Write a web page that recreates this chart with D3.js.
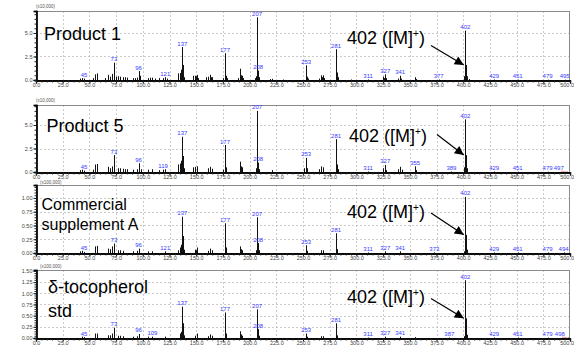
<!DOCTYPE html>
<html><head><meta charset="utf-8">
<script src="https://cdn.jsdelivr.net/npm/d3@7"></script>
<style>body{margin:0;background:#fff;} svg{display:block;font-family:"Liberation Sans",Arial,sans-serif;}</style>
</head><body><svg id="c" width="574" height="349"></svg>
<script>
// ---------- DATA ----------
const xTicks = [0,25,50,75,100,125,150,175,200,225,250,275,300,325,350,375,400,425,450,475,500];
const titles = [["Product 1"],["Product 5"],["Commercial","supplement A"],["\u03b4-tocopherol","std"]];
const multipliers = ["(x10,000)","(x10,000)","(x100,000)","(x100,000)"];
const annotationText = "402 ([M]";
const yTicksA = [0,2.5,5.0];
const yTicksB = [0,0.25,0.5,0.75,1.0];
const yTicksC = [0,0.25,0.5,0.75,1.0,1.25,1.5];

// Product 1 (x10,000)
const mzP1 =  [41,43,45,53,55,57,65,67,69,71,73,75,77,79,81,83,85,91,93,95,96,97,105,107,109,111,115,119,121,123,133,135,136,137,138,139,147,149,150,151,152,159,161,163,164,165,175,177,178,179,189,191,192,193,194,205,206,207,208,209,219,221,231,253,254,255,265,267,268,269,270,281,282,283,295,311,325,326,327,328,339,341,342,355,356,377,401,402,403,404,405,429,451,479,495];
const intP1 = [0.15,0.2,0.15,0.2,0.6,0.7,0.2,0.55,0.35,0.65,1.84,0.35,0.4,0.35,0.3,0.3,0.25,0.2,0.2,0.25,0.95,0.45,0.2,0.25,0.25,0.15,0.2,0.2,0.3,0.15,0.7,0.75,1.1,3.5,1.6,0.3,0.45,0.45,0.4,0.55,0.2,0.3,0.35,0.55,0.3,0.3,0.2,2.85,0.45,0.2,0.2,1.2,0.5,0.45,0.2,0.2,0.4,6.67,1.0,0.3,0.1,0.12,0.05,1.56,0.35,0.15,0.15,0.5,0.3,0.5,0.2,3.27,0.8,0.3,0.05,0.05,0.35,0.2,0.6,0.2,0.15,0.45,0.15,0.3,0.1,0.05,0.4,5.25,1.6,0.4,0.1,0.05,0.03,0.03,0.03];
const labP1 = [45,73,96,121,137,177,207,208,253,281,311,327,341,377,402,429,451,479,495];

// Product 5 (x10,000)
const mzP2 =  [41,43,45,53,55,57,67,69,71,73,77,79,81,83,85,91,95,96,98,105,109,115,119,121,133,135,136,137,138,139,147,149,151,161,163,165,175,177,178,191,192,193,206,207,208,209,221,251,253,254,265,267,269,281,282,283,311,325,327,328,339,341,343,355,356,389,401,402,403,404,429,451,479,497];
const intP2 = [0.2,0.25,0.15,0.25,0.8,0.85,0.55,0.4,0.6,1.8,0.4,0.4,0.35,0.3,0.3,0.25,0.3,0.93,0.3,0.25,0.3,0.2,0.25,0.3,0.8,0.9,1.2,3.75,1.7,0.4,0.5,0.55,0.6,0.4,0.55,0.35,0.25,2.87,0.5,1.1,0.6,0.5,0.4,6.5,1.0,0.3,0.2,0.4,1.5,0.4,0.3,0.6,0.5,3.5,0.8,0.3,0.05,0.4,0.75,0.2,0.3,0.55,0.25,0.6,0.2,0.05,0.5,5.6,1.8,0.4,0.05,0.03,0.03,0.03];
const labP2 = [45,73,96,119,137,177,207,208,253,281,311,327,355,389,402,429,451,479,497];

// Commercial supplement A (x100,000)
const mzP3 =  [41,43,45,55,57,67,69,71,73,77,79,81,91,95,96,105,109,121,133,135,136,137,138,139,149,150,151,161,163,165,177,178,191,192,193,206,207,208,209,253,254,267,269,281,282,311,327,341,373,401,402,403,404,429,451,479,494];
const intP3 = [0.03,0.04,0.02,0.12,0.13,0.08,0.07,0.12,0.17,0.05,0.05,0.04,0.03,0.04,0.08,0.03,0.03,0.03,0.05,0.1,0.15,0.66,0.31,0.06,0.06,0.05,0.1,0.04,0.08,0.05,0.54,0.1,0.12,0.07,0.05,0.05,0.65,0.18,0.05,0.14,0.04,0.05,0.05,0.36,0.07,0.01,0.03,0.03,0.01,0.03,1.02,0.33,0.06,0.01,0.01,0.01,0.01];
const labP3 = [45,73,96,121,137,177,207,208,253,281,311,327,341,373,402,429,451,479,494];

// delta-tocopherol std (x100,000)
const mzP4 =  [43,45,55,57,67,69,71,73,77,79,81,91,95,96,105,109,121,135,136,137,138,139,149,151,161,163,165,177,178,191,192,193,207,208,209,253,254,267,269,281,282,311,327,341,355,387,401,402,403,404,429,451,479,498];
const intP4 = [0.03,0.02,0.1,0.1,0.06,0.06,0.1,0.23,0.05,0.05,0.04,0.03,0.04,0.09,0.03,0.03,0.03,0.1,0.14,0.70,0.33,0.06,0.05,0.1,0.04,0.08,0.05,0.57,0.1,0.15,0.08,0.05,0.64,0.2,0.05,0.1,0.03,0.04,0.04,0.33,0.06,0.01,0.03,0.03,0.02,0.01,0.04,1.29,0.44,0.07,0.01,0.01,0.01,0.01];
const labP4 = [45,73,96,109,137,177,207,208,253,281,311,327,341,387,402,429,451,479,498];

// ---------- LAYOUT ----------
const panels = [
  {mz:mzP1, inten:intP1, labs:labP1, yTicks:yTicksA, fmt:d3.format(".1f"), minor:0.5, top:11, bottom:80, ymax:7.34,
   title:titles[0], tx:44, ty:[39.5], tsize:18, ax:347, ay:43.5, arrowStart:[431,45.5], mx:36, my:8},
  {mz:mzP2, inten:intP2, labs:labP2, yTicks:yTicksA, fmt:d3.format(".1f"), minor:0.5, top:105, bottom:172, ymax:7.13,
   title:titles[1], tx:46.5, ty:[131.5], tsize:18, ax:349, ay:142, arrowStart:[437,134.5], mx:36, my:102},
  {mz:mzP3, inten:intP3, labs:labP3, yTicks:yTicksB, fmt:d3.format(".2f"), minor:0.05, top:185, bottom:253, ymax:1.236,
   title:titles[2], tx:41.5, ty:[210,229.5], tsize:16, ax:347, ay:218, arrowStart:[431,213], mx:40, my:184},
  {mz:mzP4, inten:intP4, labs:labP4, yTicks:yTicksC, fmt:d3.format(".2f"), minor:0.05, top:270, bottom:338, ymax:1.52,
   title:titles[3], tx:48, ty:[292.5,316.5], tsize:18, ax:347, ay:303, arrowStart:[431,298.5], mx:40, my:268}
];

const svg = d3.select('#c');
const defs = svg.append('defs');
defs.append('marker').attr('id','ah').attr('viewBox','0 0 10 10').attr('refX',10).attr('refY',5)
  .attr('markerWidth',11).attr('markerHeight',9).attr('markerUnits','userSpaceOnUse').attr('orient','auto')
  .append('path').attr('d','M0,0 L10,5 L0,10 z').attr('fill','#000');

const x = d3.scaleLinear().domain([0,500]).range([36,570]);

panels.forEach((p,pi)=>{
  const y = d3.scaleLinear().domain([0,p.ymax]).range([p.bottom,p.top]);
  const g = svg.append('g');
  // grid
  g.selectAll('line.vg').data(xTicks.slice(1,-1)).join('line').attr('class','vg')
    .attr('x1',d=>Math.round(x(d))+0.5).attr('x2',d=>Math.round(x(d))+0.5)
    .attr('y1',p.top).attr('y2',p.bottom).attr('stroke','#bdbdbd').attr('stroke-width',0.8).attr('stroke-dasharray','2,2');
  g.selectAll('line.hg').data(p.yTicks.filter(d=>d>0 && y(d)>p.top+2)).join('line').attr('class','hg')
    .attr('x1',36).attr('x2',570).attr('y1',d=>Math.round(y(d))+0.5).attr('y2',d=>Math.round(y(d))+0.5)
    .attr('stroke','#bdbdbd').attr('stroke-width',0.8).attr('stroke-dasharray','2,2');
  // frame
  g.append('rect').attr('x',36.5).attr('y',p.top+0.5).attr('width',533).attr('height',p.bottom-p.top)
    .attr('fill','none').attr('stroke','#8a8a8a').attr('stroke-width',1);
  // peaks
  const pk = p.mz.map((m,i)=>({m, v:p.inten[i]}));
  g.selectAll('line.pk').data(pk).join('line').attr('class','pk')
    .attr('x1',d=>Math.round(x(d.m))+0.5).attr('x2',d=>Math.round(x(d.m))+0.5)
    .attr('y1',p.bottom).attr('y2',d=>y(d.v)).attr('stroke','#111').attr('stroke-width',1);
  // peak labels
  const lookup = new Map(pk.map(d=>[d.m,d.v]));
  p.labs.forEach(m=>{
    const v = lookup.has(m) ? lookup.get(m) : 0;
    let lx = x(m);
    const ly = Math.min(y(v)-1.5, p.bottom-2);
    if (lx > 566) {
      g.append('line').attr('x1',lx-6).attr('y1',ly+1).attr('x2',lx).attr('y2',p.bottom)
        .attr('stroke','#f08080').attr('stroke-width',0.8);
      lx -= 8;
    }
    g.append('text').attr('x',lx).attr('y',ly).attr('text-anchor','middle')
      .attr('font-size',6).attr('fill','#3a3aff').text(m);
  });
  // axes
  const yAx = d3.axisLeft(y).tickValues(p.yTicks).tickFormat(p.fmt).tickSize(3).tickPadding(1);
  const yMin = d3.axisLeft(y).tickValues(d3.range(0,p.ymax+1e-9,p.minor)).tickFormat('').tickSize(2);
  g.append('g').attr('transform','translate(36.5,0)').call(yAx);
  g.append('g').attr('transform','translate(36.5,0)').call(yMin);
  const xAx = d3.axisBottom(x).tickValues(xTicks).tickFormat(d3.format(".1f")).tickSize(3).tickPadding(0);
  const xMin = d3.axisBottom(x).tickValues(d3.range(0,501,5)).tickFormat('').tickSize(2);
  const gx = g.append('g').attr('transform',`translate(0,${p.bottom+0.5})`).call(xAx);
  g.append('g').attr('transform',`translate(0,${p.bottom+0.5})`).call(xMin);
  gx.selectAll('.tick text').filter(d=>d===500).attr('text-anchor','end').attr('dx',3.5);
  g.selectAll('.domain').attr('stroke','#000').attr('stroke-width',1.3);
  g.selectAll('.tick line').attr('stroke','#222');
  g.selectAll('.tick text').attr('font-size',5.5).attr('fill','#444').attr('font-family','"Liberation Sans",Arial,sans-serif');
  // multiplier
  g.append('text').attr('x',p.mx).attr('y',p.my).attr('font-size',4.5).attr('fill','#555').text(multipliers[pi]);
  // title
  p.title.forEach((t,i)=>{
    g.append('text').attr('x',p.tx).attr('y',p.ty[i]).attr('font-size',p.tsize).attr('fill','#000').text(t);
  });
  // annotation
  const at = g.append('text').attr('x',p.ax).attr('y',p.ay).attr('font-size',18).attr('fill','#000');
  at.append('tspan').text(annotationText);
  at.append('tspan').attr('font-size',10).attr('dy',-7).text('+');
  at.append('tspan').attr('dy',7).text(')');
  const tip403 = lookup.get(403);
  g.append('line').attr('x1',p.arrowStart[0]).attr('y1',p.arrowStart[1])
    .attr('x2',x(400.5)).attr('y2',y(tip403)).attr('stroke','#000').attr('stroke-width',1.2)
    .attr('marker-end','url(#ah)');
});
</script></body></html>
